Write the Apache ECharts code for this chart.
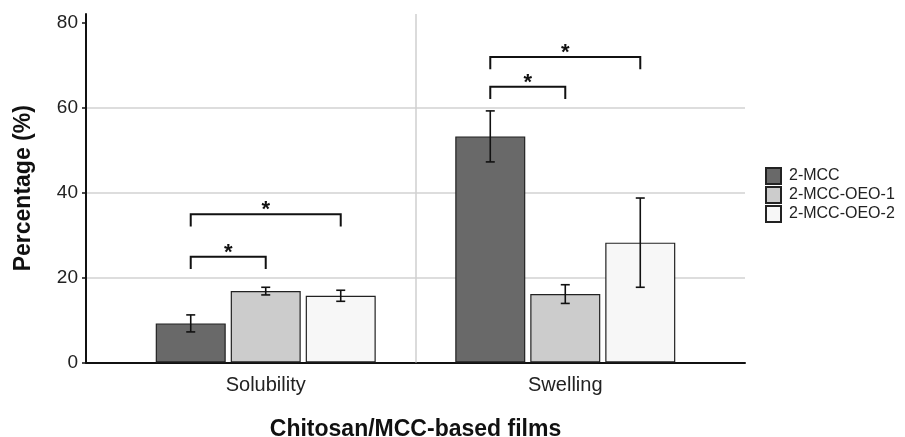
<!DOCTYPE html>
<html>
<head>
<meta charset="utf-8">
<script src="https://cdn.jsdelivr.net/npm/echarts@6/dist/echarts.min.js"></script>
<style>
  html, body { margin: 0; padding: 0; background: #fff; }
  #chart { width: 905px; height: 437px; }
</style>
</head>
<body>
<div id="chart"></div>
<script>
const categories = ['Solubility', 'Swelling'];
const groupNames = ['2-MCC', '2-MCC-OEO-1', '2-MCC-OEO-2'];
const groupColors = ['#696969', '#cccccc', '#f7f7f7'];

const mcc = [9.2, 53.2];
const mccOeo1 = [16.8, 16.1];
const mccOeo2 = [15.7, 28.2];
const mccErr = [2.0, 6.0];
const mccOeo1Err = [0.9, 2.2];
const mccOeo2Err = [1.3, 10.5];

const yTicks = [0, 20, 40, 60, 80];

// significance brackets: category index, from group, to group, bracket height
const sigCategory = [0, 0, 1, 1];
const sigFrom = [0, 0, 0, 0];
const sigTo = [1, 2, 1, 2];
const sigHeight = [24.9, 34.9, 64.9, 71.9];
const sigLabel = ['*', '*', '*', '*'];

const FONT = "'Liberation Sans', Arial, sans-serif";
const BAR_W = 70;
const BAR_GAP = 5;
const DROP = 2.9;

// discrete positions 1..n like a ggplot discrete scale
const catPos = categories.map((_, i) => i + 1);
const separators = catPos.slice(0, -1).map(p => p + 0.5);

const means = [mcc, mccOeo1, mccOeo2];
const errs = [mccErr, mccOeo1Err, mccOeo2Err];

const errData = [];
means.forEach((arr, g) => {
  arr.forEach((v, c) => {
    errData.push([catPos[c], g, v - errs[g][c], v + errs[g][c]]);
  });
});

const sigData = sigCategory.map((c, i) => [catPos[c], sigFrom[i], sigTo[i], sigHeight[i], i]);

const groupOffset = g => (g - 1) * (BAR_W + BAR_GAP);

const chart = echarts.init(document.getElementById('chart'));

chart.setOption({
  backgroundColor: '#fff',
  animation: false,
  textStyle: { fontFamily: FONT },
  grid: { left: 86, right: 160, top: 14, bottom: 74.5, outerBoundsMode: 'none' },
  legend: {
    data: groupNames,
    orient: 'vertical',
    left: 765,
    top: 167,
    padding: 0,
    itemWidth: 15,
    itemHeight: 16,
    itemGap: 1,
    icon: 'rect',
    textStyle: { fontSize: 16, color: '#222', fontFamily: FONT, padding: [0, 0, 0, 3], lineHeight: 16 }
  },
  xAxis: {
    type: 'value',
    min: 0.4,
    max: catPos.length + 0.6,
    name: 'Chitosan/MCC-based films',
    nameLocation: 'middle',
    nameGap: 56,
    nameTextStyle: { fontSize: 23, fontWeight: 'bold', color: '#111', fontFamily: FONT },
    axisLine: { lineStyle: { color: '#111', width: 2 } },
    axisTick: { show: false },
    axisLabel: {
      fontSize: 20, color: '#222', margin: 13, fontFamily: FONT,
      customValues: catPos,
      formatter: v => categories[Math.round(v) - 1] || ''
    },
    splitLine: { show: false }
  },
  yAxis: {
    type: 'value',
    min: 0,
    max: 82,
    interval: 20,
    name: 'Percentage (%)',
    nameLocation: 'middle',
    nameGap: 51,
    nameTextStyle: { fontSize: 23, fontWeight: 'bold', color: '#111', fontFamily: FONT },
    axisLine: { show: true, lineStyle: { color: '#111', width: 2 } },
    axisTick: { show: true, length: 4, customValues: yTicks, lineStyle: { color: '#111', width: 1.5 } },
    axisLabel: { fontSize: 19, color: '#222', margin: 8, customValues: yTicks, fontFamily: FONT },
    splitLine: { show: true, showMaxLine: false, lineStyle: { color: '#d2d2d2', width: 1.5 } }
  },
  series: [
    {
      type: 'line',
      name: 'separator',
      data: [],
      silent: true,
      z: 1,
      markLine: {
        silent: true,
        symbol: 'none',
        label: { show: false },
        lineStyle: { color: '#cfcfcf', width: 1.5, type: 'solid' },
        data: separators.map(x => ({ xAxis: x }))
      }
    },
    ...groupNames.map((name, g) => ({
      name,
      type: 'bar',
      data: means[g].map((v, c) => [catPos[c], v]),
      barWidth: BAR_W,
      barGap: (BAR_GAP / BAR_W * 100) + '%',
      itemStyle: { color: groupColors[g], borderColor: '#222', borderWidth: 1.2 },
      z: 2
    })),
    {
      type: 'custom',
      name: 'error',
      data: errData,
      encode: { x: 0, y: [2, 3] },
      z: 5,
      renderItem(params, api) {
        const x0 = api.value(0), g = api.value(1);
        const lo = api.coord([x0, api.value(2)]);
        const hi = api.coord([x0, api.value(3)]);
        const x = lo[0] + groupOffset(g);
        const cap = 4.5;
        const st = { stroke: '#111', lineWidth: 1.6 };
        return {
          type: 'group',
          children: [
            { type: 'line', shape: { x1: x, y1: hi[1], x2: x, y2: lo[1] }, style: st },
            { type: 'line', shape: { x1: x - cap, y1: hi[1], x2: x + cap, y2: hi[1] }, style: st },
            { type: 'line', shape: { x1: x - cap, y1: lo[1], x2: x + cap, y2: lo[1] }, style: st }
          ]
        };
      }
    },
    {
      type: 'custom',
      name: 'sig',
      data: sigData,
      encode: { x: 0, y: 3 },
      z: 5,
      renderItem(params, api) {
        const x0 = api.value(0), f = api.value(1), t = api.value(2), h = api.value(3);
        const top = api.coord([x0, h]);
        const bot = api.coord([x0, h - DROP]);
        const x1 = top[0] + groupOffset(f);
        const x2 = top[0] + groupOffset(t);
        const st = { stroke: '#111', lineWidth: 2, fill: null };
        return {
          type: 'group',
          children: [
            { type: 'polyline', shape: { points: [[x1, bot[1]], [x1, top[1]], [x2, top[1]], [x2, bot[1]]] }, style: st },
            {
              type: 'text',
              style: {
                text: sigLabel[api.value(4)],
                x: (x1 + x2) / 2,
                y: top[1] - 4,
                align: 'center',
                verticalAlign: 'middle',
                fontSize: 22,
                fontWeight: 'bold',
                fontFamily: FONT,
                fill: '#111'
              }
            }
          ]
        };
      }
    }
  ]
});

window.addEventListener('resize', () => chart.resize());
</script>
</body>
</html>
